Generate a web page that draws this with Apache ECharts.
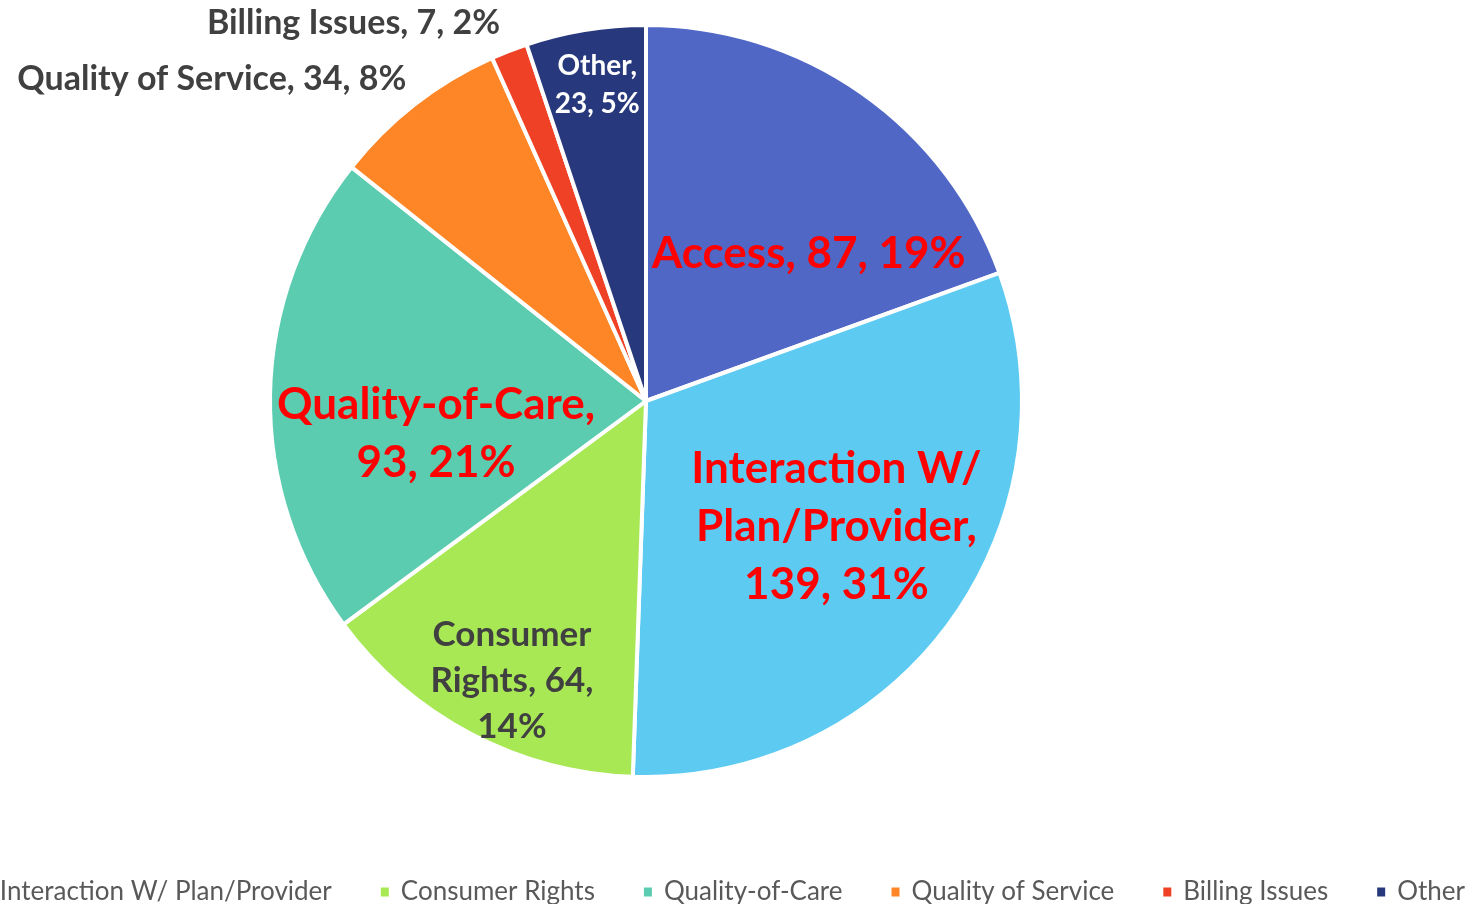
<!DOCTYPE html>
<html>
<head>
<meta charset="utf-8">
<title>Complaints by category</title>
<script src="https://cdn.jsdelivr.net/npm/echarts@6/dist/echarts.min.js"></script>
<style>
  html, body { margin: 0; padding: 0; background: #fff; }
  #chart { width: 1478px; height: 904px; }
</style>
</head>
<body>
<div id="chart"></div>
<script>
// categories and counts, clockwise from 12 o'clock
var categories = ['Access', 'Interaction W/ Plan/Provider', 'Consumer Rights', 'Quality-of-Care', 'Quality of Service', 'Billing Issues', 'Other'];
var counts = [87, 139, 64, 93, 34, 7, 23];
// how each data label wraps (where the line breaks go)
var labelNames = ['Access', 'Interaction W/\nPlan/Provider', 'Consumer\nRights', 'Quality-of-Care', 'Quality of Service', 'Billing Issues', 'Other'];
var labelBreaks = [' ', ',\n', ', ', ',\n', ' ', ' ', ',\n'];

var colors = ['#5067C6', '#5DCBF1', '#A9E855', '#5CCCB1', '#FE8627', '#EE4125', '#27387C'];

// label look per slice
var labelStyles = [
  {color: '#FF0000', fontSize: 44, lineHeight: 58},
  {color: '#FF0000', fontSize: 44, lineHeight: 58},
  {color: '#404040', fontSize: 35, lineHeight: 46},
  {color: '#FF0000', fontSize: 44, lineHeight: 58},
  {color: '#404040', fontSize: 34, lineHeight: 40},
  {color: '#404040', fontSize: 34, lineHeight: 40},
  {color: '#FFFFFF', fontSize: 28, lineHeight: 38}
];
// nudge from the default inside position
var labelShift = [
  [53, 9], [36, 13], [-45, 111], [-19, 36], [-317, -171], [-223, -200], [-18, -128]
];

var total = counts.reduce(function (a, b) { return a + b; }, 0);

var myChart = echarts.init(document.getElementById('chart'));

var pieData = categories.map(function (name, i) {
  var pct = Math.round(counts[i] / total * 100);
  var sep = labelBreaks[i];
  var text;
  if (i === 2) {
    text = 'Consumer\nRights, ' + counts[i] + ',\n' + pct + '%';
  } else {
    text = labelNames[i] + ',' + (sep === ',\n' ? '\n' : ' ') + counts[i] + ', ' + pct + '%';
  }
  return {
    name: name,
    value: counts[i],
    itemStyle: {color: colors[i]},
    label: {
      formatter: text,
      color: labelStyles[i].color,
      fontSize: labelStyles[i].fontSize,
      lineHeight: labelStyles[i].lineHeight
    }
  };
});

option = {
  animation: false,
  textStyle: {fontFamily: 'Lato'},
  legend: {
    data: categories,
    bottom: -6,
    left: -174,
    icon: 'rect',
    itemWidth: 10,
    itemHeight: 11,
    itemGap: 47,
    textStyle: {
      color: '#595959',
      fontSize: 26,
      fontFamily: 'Lato',
      padding: [0, 0, 0, 6]
    }
  },
  series: [
    {
      name: 'Complaints',
      type: 'pie',
      center: [646, 401],
      radius: 376,
      startAngle: 90,
      clockwise: true,
      itemStyle: {
        borderColor: '#ffffff',
        borderWidth: 4
      },
      label: {
        show: true,
        position: 'inside',
        fontFamily: 'Lato',
        fontWeight: 'bold',
        align: 'center'
      },
      labelLine: {show: false},
      labelLayout: function (params) {
        var s = labelShift[params.dataIndex];
        return {dx: s[0], dy: s[1]};
      },
      emphasis: {disabled: true},
      data: pieData
    }
  ]
};

myChart.setOption(option);
</script>
</body>
</html>
